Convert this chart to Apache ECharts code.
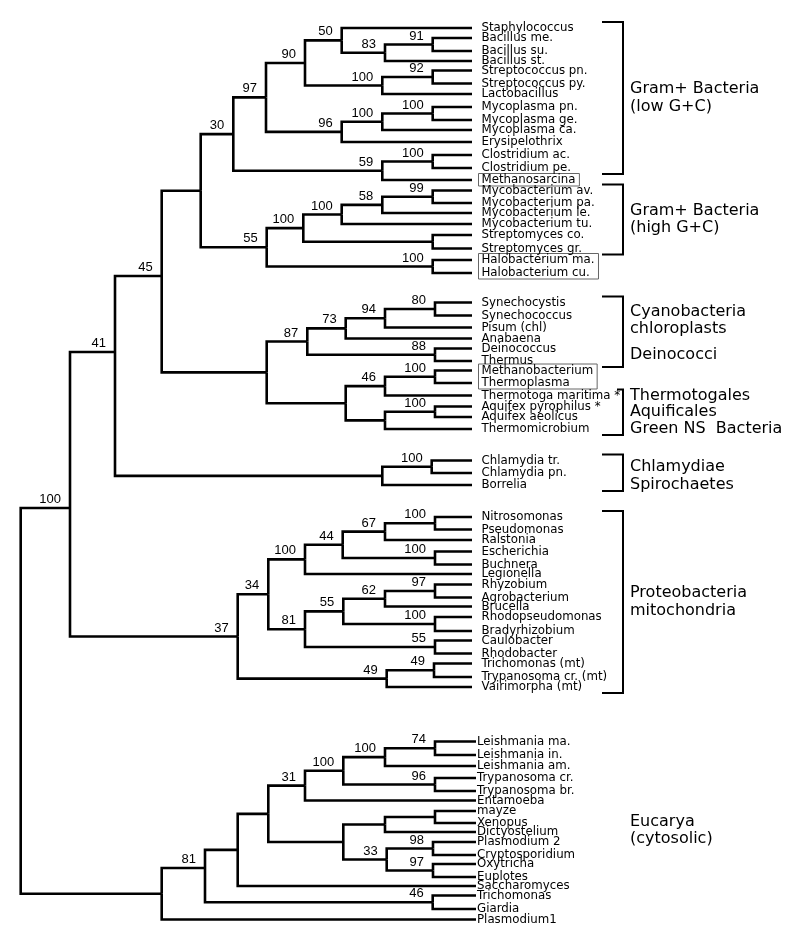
<!DOCTYPE html>
<html>
<head>
<meta charset="utf-8">
<script src="https://cdn.jsdelivr.net/npm/echarts@6/dist/echarts.min.js"></script>
<style>
html,body{margin:0;padding:0;background:#fff;}
#chart{width:800px;height:941px;}
</style>
</head>
<body>
<div id="chart"></div>
<script>
// ---------- DATA ----------
const leafNames = ["Staphylococcus","Bacillus me.","Bacillus su.","Bacillus st.","Streptococcus pn.","Streptococcus py.","Lactobacillus","Mycoplasma pn.","Mycoplasma ge.","Mycoplasma ca.","Erysipelothrix","Clostridium ac.","Clostridium pe.","Methanosarcina","Mycobacterium av.","Mycobacterium pa.","Mycobacterium le.","Mycobacterium tu.","Streptomyces co.","Streptomyces gr.","Halobacterium ma.","Halobacterium cu.","Synechocystis","Synechococcus","Pisum (chl)","Anabaena","Deinococcus","Thermus","Methanobacterium","Thermoplasma","Thermotoga maritima *","Aquifex pyrophilus *","Aquifex aeolicus","Thermomicrobium","Chlamydia tr.","Chlamydia pn.","Borrelia","Nitrosomonas","Pseudomonas","Ralstonia","Escherichia","Buchnera","Legionella","Rhyzobium","Agrobacterium","Brucella","Rhodopseudomonas","Bradyrhizobium","Caulobacter","Rhodobacter","Trichomonas (mt)","Trypanosoma cr. (mt)","Vairimorpha (mt)","Leishmania ma.","Leishmania in.","Leishmania am.","Trypanosoma cr.","Trypanosoma br.","Entamoeba","mayze","Xenopus","Dictyostelium","Plasmodium 2","Cryptosporidium","Oxytricha","Euplotes","Saccharomyces","Trichomonas","Giardia","Plasmodium1"];
// vertical row position of each leaf
const leafPos = [28,38,51,61,70.5,83.5,94,107,120,130,142,155,168,180,190.5,203,213,224,235,248.5,260,273,302.5,315.5,327.5,338.5,348.5,361,370.5,383,395.5,406.5,417,429,460.5,473,485,517,529.5,540,551.5,564.5,574,584.5,597.5,606.5,617,631,640.5,653.5,663.5,677,687,741.5,755,766,778,791,800.5,811,823,832,842,855,864,877,886,895.5,909,919.5];

// internal nodes: id, depth, bootstrap support, children (numbers = leaf index)
const nodeIds     = ["root","A","B","C","D","E","F","G","H","I","J","K","L","M","N","O","P","Q","R","S","T","U","V","W","X","Y","Z","AA","AB","AC","AD","AE","AF","AG","AH","AI","AJ","AK","AL","AM","AN","AO","AP","AQ","AR","AS","AT","AU","AV","AW","AX","AY","AZ","BA","BB","BC","BD","BE","BF","BG","BH","BI","BJ","BK","BL","BM","BN","BO","BP"];
const nodeDepth   = [20.7,70,115,161.7,200.7,233.3,266,305,341.7,385,432.7,382.3,432.7,341.7,382.3,432.7,382.3,432.7,266.7,303.3,341.7,382.3,432.7,432.7,432.7,266.7,307.3,345.7,385,435,435,345.7,385,435,385,435,382.3,431.7,237.7,268.3,305,342.7,385,435,435,305,343.3,385,435,435,435,386.7,434,161.7,205,237.7,268.3,305,343.3,385,435,435,343.3,385,435,386.7,433,433,432.7];
const nodeSupport = ["","100","41","45","","30","97","90","50","83","91","100","92","96","100","100","59","100","55","100","100","58","99","","100","","87","73","94","80","88","","46","100","","100","","100","37","34","100","44","67","100","100","81","55","62","97","100","55","49","49","","81","","","31","100","100","74","96","","","","33","98","97","46"];
const nodeKids = [
  ["A","BA"],["B","AL"],["C","AJ"],["D","Y"],["E","R"],["F","P"],["G","M"],["H","K"],[0,"I"],["J",3],[1,2],["L",6],[4,5],["N",10],["O",9],[7,8],["Q",13],[11,12],
  ["S","X"],["T","W"],["U",17],["V",16],[14,15],[18,19],[20,21],
  ["Z","AE"],["AA","AD"],["AB",25],["AC",24],[22,23],[26,27],["AF","AH"],["AG",30],[28,29],["AI",33],[31,32],
  ["AK",36],[34,35],
  ["AM","AY"],["AN","AS"],["AO",42],["AP","AR"],["AQ",39],[37,38],[40,41],["AT","AX"],["AU","AW"],["AV",45],[43,44],[46,47],[48,49],["AZ",52],[50,51],
  ["BB",69],["BC","BP"],["BD",66],["BE","BJ"],["BF",58],["BG","BI"],["BH",55],[53,54],[56,57],["BK","BM"],["BL",61],[59,60],["BN","BO"],[62,63],[64,65],[67,68]
];
// nodes whose branch is not drawn at the mid-point of their children
const attachPos = {A:508, B:352, C:276, BB:868};

const bracketRanges = [[0,12],[14,19],[22,27],[30,33],[34,36],[37,52]];
const cladeLabels = ["Gram+ Bacteria\n(low G+C)","Gram+ Bacteria\n(high G+C)","Cyanobacteria\nchloroplasts","Deinococci","Thermotogales","Aquificales","Green NS  Bacteria","Chlamydiae","Spirochaetes","Proteobacteria\nmitochondria","Eucarya\n(cytosolic)"];
const cladeRanges = [[0,12],[14,19],[22,25],[26,27],[30,30],[31,32],[33,33],[34,35],[36,36],[37,52],[53,69]];
const boxedRanges = [[13,13],[20,21],[28,29]];
const eukFirst = 53;

// ---------- LAYOUT CONSTANTS ----------
const TIP = 472, EUK_TIP = 476;
const LEAF_GAP = 9.5, EUK_GAP = 1;
const BRACKET_X = 623, TICK_LEN = 21, CLADE_X = 630;
const LEAF_FONT = '11.8px "DejaVu Sans"';
const SUP_FONT = '13px "Liberation Sans"';
const CLADE_FONT = '16px "DejaVu Sans"';

const measure = document.createElement('canvas').getContext('2d');
measure.font = LEAF_FONT;

// ---------- TREE GEOMETRY ----------
const nodeIndex = {};
nodeIds.forEach((id, i) => nodeIndex[id] = i);
const nodeY = {};
function posOf(c) {
  if (typeof c === 'number') return [c >= eukFirst ? EUK_TIP : TIP, leafPos[c]];
  return [nodeDepth[nodeIndex[c]], yOf(c)];
}
function yOf(id) {
  if (nodeY[id] !== undefined) return nodeY[id];
  const kids = nodeKids[nodeIndex[id]];
  const a = posOf(kids[0])[1], b = posOf(kids[kids.length - 1])[1];
  const y = attachPos[id] !== undefined ? attachPos[id] : (a + b) / 2;
  nodeY[id] = y;
  return y;
}
const edgeData = [];
const supportData = [];
nodeIds.forEach((id, i) => {
  const px = nodeDepth[i], py = yOf(id);
  nodeKids[i].forEach(c => {
    const p = posOf(c);
    edgeData.push([px, py, p[0], p[1]]);
  });
  if (nodeSupport[i] !== "") supportData.push([px, py, i]);
});
const leafData = leafNames.map((n, i) => [i >= eukFirst ? EUK_TIP : TIP, leafPos[i], i]);

const chart = echarts.init(document.getElementById('chart'), null, {renderer: 'canvas'});
chart.setOption({
  animation: false,
  grid: {left: 0, right: 0, top: 0, bottom: 0},
  xAxis: {type: 'value', min: 0, max: 800, show: false},
  yAxis: {type: 'value', min: 0, max: 941, inverse: true, show: false},
  series: [
    { // archaeal name boxes
      type: 'custom', coordinateSystem: 'cartesian2d', z: 1,
      data: boxedRanges.map(r => [TIP, leafPos[r[0]], leafPos[r[1]], r[0], r[1]]),
      renderItem: (params, api) => {
        const f = api.value(3), l = api.value(4);
        let w = 0;
        for (let k = f; k <= l; k++) w = Math.max(w, measure.measureText(leafNames[k]).width);
        const top = api.coord([api.value(0), api.value(1)]);
        const bot = api.coord([api.value(0), api.value(2)]);
        const x0 = top[0] + 6.5, y0 = top[1] - 6.5, y1 = bot[1] + 6;
        return {type: 'rect', shape: {x: x0, y: y0, width: w + 7, height: y1 - y0},
          style: {fill: 'none', stroke: '#666', lineWidth: 1}};
      }
    },
    { // tree branches
      type: 'custom', coordinateSystem: 'cartesian2d', z: 2,
      data: edgeData,
      renderItem: (params, api) => {
        const a = api.coord([api.value(0), api.value(1)]);
        const b = api.coord([api.value(0), api.value(3)]);
        const c = api.coord([api.value(2), api.value(3)]);
        return {type: 'polyline', shape: {points: [a, b, c]},
          style: {stroke: '#000', lineWidth: 2.6, fill: 'none', lineJoin: 'miter', lineCap: 'butt'}};
      }
    },
    { // leaf names
      type: 'custom', coordinateSystem: 'cartesian2d', z: 3,
      data: leafData,
      renderItem: (params, api) => {
        const i = api.value(2);
        const p = api.coord([api.value(0), api.value(1)]);
        return {type: 'text', x: p[0] + (i >= eukFirst ? EUK_GAP : LEAF_GAP), y: p[1],
          style: {text: leafNames[i], font: LEAF_FONT, fill: '#000', align: 'left', verticalAlign: 'middle'}};
      }
    },
    { // bootstrap support values
      type: 'custom', coordinateSystem: 'cartesian2d', z: 3,
      data: supportData,
      renderItem: (params, api) => {
        const i = api.value(2);
        const p = api.coord([api.value(0), api.value(1)]);
        return {type: 'text', x: p[0] - 9, y: p[1] - 2,
          style: {text: nodeSupport[i], font: SUP_FONT, fill: '#000', align: 'right', verticalAlign: 'bottom'}};
      }
    },
    { // brackets
      type: 'custom', coordinateSystem: 'cartesian2d', z: 2,
      data: bracketRanges.map(r => [BRACKET_X, leafPos[r[0]], leafPos[r[1]], r[0]]),
      renderItem: (params, api) => {
        const t = api.coord([api.value(0), api.value(1)]);
        const b = api.coord([api.value(0), api.value(2)]);
        const first = api.value(3);
        const leafX = api.coord([first >= eukFirst ? EUK_TIP : TIP, 0])[0] + LEAF_GAP;
        const textEnd = leafX + measure.measureText(leafNames[first]).width;
        const topLeft = Math.min(t[0] - 6, Math.max(t[0] - TICK_LEN, textEnd + 3));
        const yt = t[1] - 6, yb = b[1] + 6;
        return {type: 'polyline', shape: {points: [[topLeft, yt], [t[0], yt], [t[0], yb], [t[0] - TICK_LEN, yb]]},
          style: {stroke: '#000', lineWidth: 2, fill: 'none', lineJoin: 'miter'}};
      }
    },
    { // clade names
      type: 'custom', coordinateSystem: 'cartesian2d', z: 3,
      data: cladeRanges.map((r, i) => [CLADE_X, (leafPos[r[0]] + leafPos[r[1]]) / 2, i]),
      renderItem: (params, api) => {
        const p = api.coord([api.value(0), api.value(1)]);
        return {type: 'text', x: p[0], y: p[1],
          style: {text: cladeLabels[api.value(2)], font: CLADE_FONT, lineHeight: 17.5, fill: '#000', align: 'left', verticalAlign: 'middle'}};
      }
    }
  ]
});
</script>
</body>
</html>
